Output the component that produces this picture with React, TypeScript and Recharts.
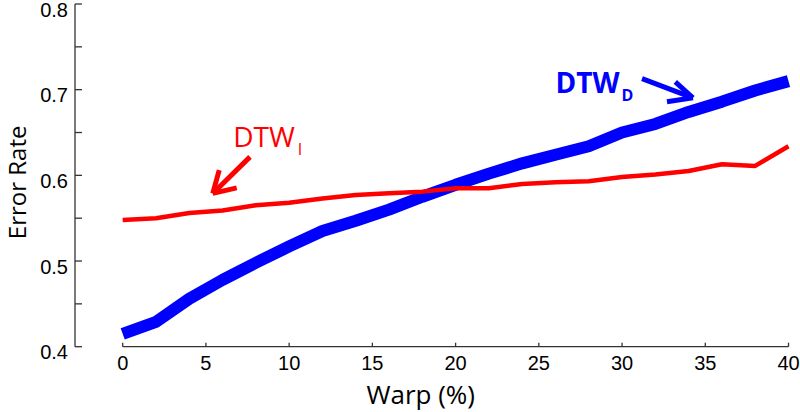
import React from 'react';
import { LineChart, Line, XAxis, YAxis, ReferenceLine, ReferenceDot } from 'recharts';

const warp = [0, 2, 4, 6, 8, 10, 12, 14, 16, 18, 20, 22, 24, 26, 28, 30, 32, 34, 36, 38, 40];
const dtwI = [0.548, 0.55, 0.556, 0.559, 0.565, 0.568, 0.573, 0.577, 0.579, 0.581, 0.585, 0.585, 0.59, 0.592, 0.593, 0.598, 0.601, 0.605, 0.613, 0.611, 0.634];
const dtwD = [0.415, 0.429, 0.456, 0.478, 0.498, 0.517, 0.535, 0.547, 0.56, 0.575, 0.589, 0.602, 0.614, 0.624, 0.634, 0.65, 0.66, 0.674, 0.686, 0.699, 0.71];
const xTicks = [0, 5, 10, 15, 20, 25, 30, 35, 40];
const yTicks = [0.4, 0.45, 0.5, 0.55, 0.6, 0.65, 0.7, 0.75, 0.8];
const yLabels = ['0.4', '0.5', '0.6', '0.7', '0.8'];

// annotation anchors in data coordinates
const labelD = { x: 26.0, y: 0.6967 };
const arrowD = [
  [{ x: 31.2, y: 0.713 }, { x: 34.26, y: 0.6905 }],
  [{ x: 33.2, y: 0.709 }, { x: 34.26, y: 0.6905 }],
  [{ x: 32.7, y: 0.686 }, { x: 34.26, y: 0.6905 }],
];
const labelI = { x: 6.64, y: 0.6332 };
const arrowI = [
  [{ x: 7.65, y: 0.6216 }, { x: 5.41, y: 0.5789 }],
  [{ x: 5.8, y: 0.6061 }, { x: 5.41, y: 0.5789 }],
  [{ x: 6.85, y: 0.5854 }, { x: 5.41, y: 0.5789 }],
];

const data = warp.map((w, i) => ({ warp: w, dtwI: dtwI[i], dtwD: dtwD[i] }));

const AXIS = '#333333';
const TICK_FONT = '"Liberation Sans", Arial, sans-serif';
const TITLE_FONT = '"Open Sans", sans-serif';

const XTick = (props: any) => {
  const { x, y, payload } = props;
  return (
    <g>
      <line x1={x} y1={y} x2={x} y2={y - 4} stroke={AXIS} strokeWidth={1.3} />
      <text x={x} y={y + 16} textAnchor="middle" dominantBaseline="central" fontFamily={TICK_FONT} fontSize={20} fill="#000">
        {payload.value}
      </text>
    </g>
  );
};

const YTick = (props: any) => {
  const { x, y, payload } = props;
  const label = yLabels.find((l) => Math.abs(parseFloat(l) - payload.value) < 1e-6);
  return (
    <g>
      <line x1={x} y1={y} x2={x + 7} y2={y} stroke={AXIS} strokeWidth={1.3} />
      {label && (
        <text x={x - 7} y={y + 5.5} textAnchor="end" dominantBaseline="central" fontFamily={TICK_FONT} fontSize={20} fill="#000">
          {label}
        </text>
      )}
    </g>
  );
};

const DLabel = (props: any) => (
  <text x={props.cx} y={props.cy} fontFamily={TITLE_FONT} fontWeight={700} fontSize={28} fill="#0000FF">
    DTW
    <tspan fontSize={16} dy={8.5} dx={2}>D</tspan>
  </text>
);

const ILabel = (props: any) => (
  <text x={props.cx} y={props.cy} fontFamily={TITLE_FONT} fontSize={28} fill="#FF0000">
    DTW
    <tspan fontSize={16} dy={8.5} dx={3}>I</tspan>
  </text>
);

export default function App() {
  return (
    <div style={{ position: 'absolute', left: 0, top: 0, width: 800, height: 412, background: '#fff' }}>
      <LineChart width={800} height={412} data={data} margin={{ top: 4, right: 11.5, left: 0, bottom: 0 }}>
        <XAxis
          dataKey="warp"
          type="number"
          domain={[0, 40]}
          ticks={xTicks}
          padding={{ left: 47.7, right: 0 }}
          axisLine={false}
          tickLine={false}
          tickSize={0}
          tickMargin={0}
          tick={<XTick />}
          height={65.3}
          interval={0}
          label={(p: any) => {
            const vb = p.viewBox;
            return (
              <text x={vb.x + vb.width / 2 - 11} y={404} textAnchor="middle" fontFamily={TITLE_FONT} fontSize={26} fill="#000">
                Warp (%)
              </text>
            );
          }}
        />
        <YAxis
          type="number"
          domain={[0.4, 0.8]}
          ticks={yTicks}
          width={75}
          axisLine={{ stroke: AXIS, strokeWidth: 1.3 }}
          tickLine={false}
          tickSize={0}
          tickMargin={0}
          tick={<YTick />}
          interval={0}
          label={(p: any) => {
            const vb = p.viewBox;
            const cy = vb.y + vb.height / 2 + 7;
            return (
              <text x={26} y={cy} transform={`rotate(-90, 26, ${cy})`} textAnchor="middle" fontFamily={TITLE_FONT} fontSize={24} fill="#000">
                Error Rate
              </text>
            );
          }}
        />
        <ReferenceLine segment={[{ x: 0, y: 0.4 }, { x: 40, y: 0.4 }]} stroke={AXIS} strokeWidth={1.3} ifOverflow="visible" />
        <Line type="linear" dataKey="dtwD" stroke="#0000FF" strokeWidth={12} dot={false} isAnimationActive={false} strokeLinejoin="round" strokeLinecap="butt" />
        <Line type="linear" dataKey="dtwI" stroke="#FF0000" strokeWidth={4.5} dot={false} isAnimationActive={false} strokeLinejoin="round" strokeLinecap="butt" />
        {arrowD.map((seg, i) => (
          <ReferenceLine key={'d' + i} segment={seg} stroke="#0000FF" strokeWidth={5} ifOverflow="visible" />
        ))}
        {arrowI.map((seg, i) => (
          <ReferenceLine key={'i' + i} segment={seg} stroke="#FF0000" strokeWidth={5} ifOverflow="visible" />
        ))}
        <ReferenceDot x={labelD.x} y={labelD.y} r={0} ifOverflow="visible" shape={<DLabel />} />
        <ReferenceDot x={labelI.x} y={labelI.y} r={0} ifOverflow="visible" shape={<ILabel />} />
      </LineChart>
    </div>
  );
}
